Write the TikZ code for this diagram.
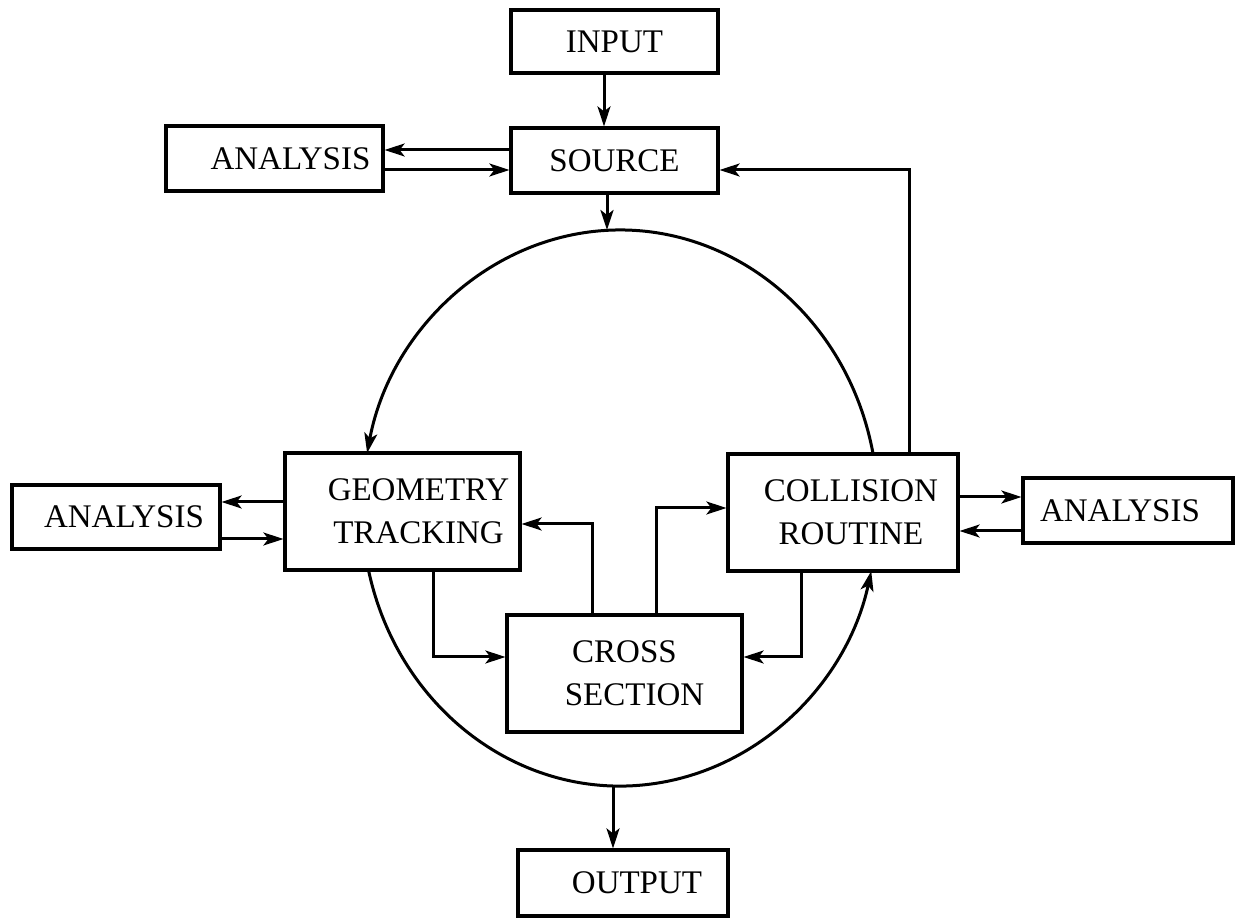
\documentclass[tikz,border=0pt]{standalone}
\usepackage{fontspec}
\setmainfont{Liberation Serif}
\usetikzlibrary{arrows.meta}
\tikzset{
  box/.style={draw, line width=1.6pt, inner sep=0pt, align=center,
    font=\fontsize{16.5}{21.5}\selectfont},
  conn/.style={line width=1.5pt, -{Stealth[length=10pt,width=6.5pt,inset=2.5pt]}},
  plain/.style={line width=1.5pt}
}
\begin{document}
\begin{tikzpicture}[x=0.5pt,y=-0.5pt]
\useasboundingbox (0,0) rectangle (1238,919);
% boxes
\node[box, minimum width=103.5pt, minimum height=31.5pt] (in) at (614.5,41.5) {INPUT};
\node[box, minimum width=103.5pt, minimum height=32.5pt] (src) at (614.5,160.5) {SOURCE};
\node[box, minimum width=108.5pt, minimum height=32.5pt] (ana1) at (274.5,158.5) {\hspace*{16pt}ANALYSIS};
\node[box, minimum width=104pt, minimum height=32pt] (ana2) at (116,517) {\hspace*{8pt}ANALYSIS};
\node[box, minimum width=117.5pt, minimum height=58.5pt] (geo) at (402.5,511.5) {\hspace*{16pt}GEOMETRY\\\hspace*{16pt}TRACKING};
\node[box, minimum width=115pt, minimum height=58.5pt] (col) at (843,512.5) {\hspace*{8pt}COLLISION\\\hspace*{8pt}ROUTINE};
\node[box, minimum width=105pt, minimum height=32.5pt] (ana3) at (1128,510.5) {ANALYSIS\hspace*{8pt}};
\node[box, minimum width=117.5pt, minimum height=58.5pt] (cs) at (624.5,673.5) {CROSS\\\hspace*{10pt}SECTION};
\node[box, minimum width=105pt, minimum height=33pt] (out) at (623,883) {\hspace*{14pt}OUTPUT};

% input -> source
\draw[conn] ([xshift=-5.25pt]in.south) -- ([xshift=-5.25pt]src.north);
% source <-> analysis (top)
\coordinate (s1) at ([yshift=5.25pt]src.west);
\draw[conn] (s1) -- (s1 -| ana1.east);
\coordinate (a1) at ([yshift=-5.75pt]ana1.east);
\draw[conn] (a1) -- (a1 -| src.west);
% source -> circle
\coordinate (s2) at ([xshift=-3.75pt]src.south);
\coordinate (ctop) at (607,230);
\draw[conn] (s2) -- (ctop);
% circle arcs
\coordinate (arcA) at (873.1,454);
\draw[conn] (arcA) arc[start angle=11.2, end angle=168.6, x radius=129pt, y radius=139pt];
\coordinate (arcB) at (368.5,570.1);
\draw[conn] (arcB) arc[start angle=192.9, end angle=346.9, x radius=129pt, y radius=139pt];
% circle -> output
\coordinate (cbot) at (613,786);
\draw[conn] (cbot) -- (cbot |- out.north);
% geometry <-> analysis (left)
\coordinate (g1) at ([yshift=4.75pt]geo.west);
\draw[conn] (g1) -- (g1 -| ana2.east);
\coordinate (g2) at ([yshift=-13.75pt]geo.west);
\draw[conn] (g2 -| ana2.east) -- (g2);
% collision <-> analysis (right)
\coordinate (c1) at ([yshift=7.75pt]col.east);
\draw[conn] (c1) -- (c1 -| ana3.west);
\coordinate (c2) at ([yshift=-9.25pt]col.east);
\draw[conn] (c2 -| ana3.west) -- (c2);
% geometry -> cross section
\coordinate (gb) at ([xshift=15.25pt]geo.south);
\coordinate (cl) at ([yshift=8.25pt]cs.west);
\draw[conn] (gb) |- (cl);
% cross section -> geometry
\coordinate (ct1) at ([xshift=-16.25pt]cs.north);
\coordinate (ge) at ([yshift=-6.25pt]geo.east);
\draw[conn] (ct1) |- (ge);
% cross section -> collision
\coordinate (ct2) at ([xshift=15.75pt]cs.north);
\coordinate (cw) at ([yshift=2.25pt]col.west);
\draw[conn] (ct2) |- (cw);
% collision -> cross section
\coordinate (cb) at ([xshift=-21pt]col.south);
\coordinate (cr) at ([yshift=8.25pt]cs.east);
\draw[conn] (cb) |- (cr);
% collision -> source
\coordinate (ctp) at ([xshift=33pt]col.north);
\coordinate (se) at ([yshift=-4.75pt]src.east);
\draw[conn] (ctp) |- (se);
\end{tikzpicture}
\end{document}
